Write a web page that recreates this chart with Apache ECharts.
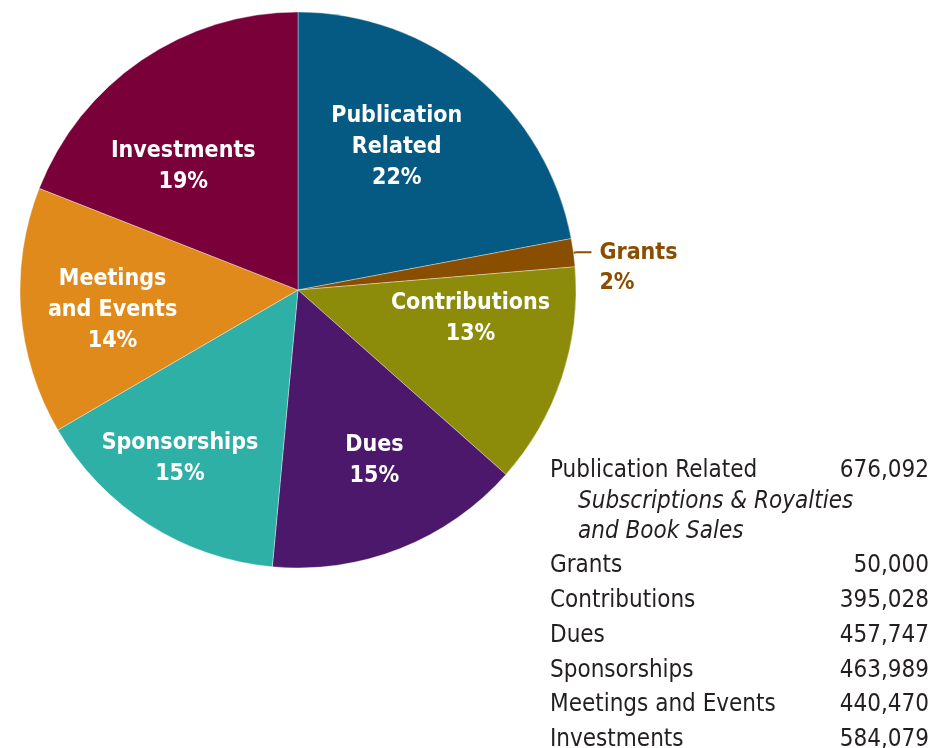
<!DOCTYPE html>
<html>
<head>
<meta charset="utf-8">
<script src="https://cdn.jsdelivr.net/npm/echarts@6/dist/echarts.min.js"></script>
<style>
html,body{margin:0;padding:0;background:#fff;}
#chart{width:934px;height:748px;}
</style>
</head>
<body>
<div id="chart"></div>
<script>
// ---- data ----
const categories = ['Publication Related','Grants','Contributions','Dues','Sponsorships','Meetings and Events','Investments'];
const sliceLabels = ['Publication\nRelated','Grants','Contributions','Dues','Sponsorships','Meetings\nand Events','Investments'];
const values = [676092, 50000, 395028, 457747, 463989, 440470, 584079];
const colors = ['#045a82','#8a4e00','#8c8c0a','#4b186b','#2eb0a6','#e08a1c','#7a003a'];
const subNote = ['Subscriptions & Royalties','and Book Sales'];
// label nudges (style only)
const labelNudge = [[-20,0],[0,0],[-4,-30],[8,-2],[-18,12],[0,6],[-10,30]];

const FONT = '"Liberation Sans Narrow","DejaVu Sans Condensed","Roboto Condensed",sans-serif';
const chart = echarts.init(document.getElementById('chart'), null, {renderer:'canvas'});

const mainData = categories.map((c,i)=>({
  name:c, value:values[i],
  itemStyle:{color:colors[i]},
  label: i===1 ? {show:true} : {show:false},
  labelLine: i===1 ? {show:true} : {show:false}
}));
const labelData = categories.map((c,i)=>({
  name:c, value:values[i],
  label:{show: i!==1, offset:labelNudge[i]}
}));

// table graphic
const graphics = [];
const fmt = v => v.toLocaleString('en-US');
let y = 470;
categories.forEach((c,i)=>{
  graphics.push({type:'text', left:550, top:y-11, style:{text:c, font:'24px '+FONT, fill:'#231f20'}});
  graphics.push({type:'text', right:5, top:y-11, style:{text:fmt(values[i]), font:'24px '+FONT, fill:'#231f20', textAlign:'right'}});
  if(i===0){
    subNote.forEach((s,k)=>{
      graphics.push({type:'text', left:578, top:y+30*(k+1)-10, style:{text:s, font:'italic 24px '+FONT, fill:'#231f20'}});
    });
    y += 95;
  } else {
    y += 34.8;
  }
});

chart.setOption({
  animation:false,
  backgroundColor:'#ffffff',
  series:[
    {
      type:'pie',
      center:[298,290],
      radius:[0,278],
      startAngle:90,
      clockwise:true,
      percentPrecision:0,
      avoidLabelOverlap:false,
      itemStyle:{borderColor:'rgba(255,255,255,0.6)',borderWidth:0.6},
      label:{
        position:'outside',
        formatter:p=>p.name+'\n'+p.percent+'%',
        color:'#8a4e00',
        fontFamily:FONT, fontWeight:'bold', fontSize:23, lineHeight:30,
        align:'left', offset:[3,16]
      },
      labelLine:{length:4,length2:14,smooth:false,lineStyle:{color:'#8a4e00',width:2}},
      data:mainData
    },
    {
      type:'pie',
      center:[298,290],
      radius:[0,366],
      startAngle:90,
      clockwise:true,
      percentPrecision:0,
      silent:true,
      itemStyle:{color:'rgba(0,0,0,0)'},
      label:{
        position:'inside',
        formatter:p=>sliceLabels[p.dataIndex]+'\n'+p.percent+'%',
        color:'#ffffff',
        fontFamily:FONT, fontWeight:'bold', fontSize:23, lineHeight:31
      },
      labelLine:{show:false},
      data:labelData
    }
  ],
  graphic:graphics
});
</script>
</body>
</html>
